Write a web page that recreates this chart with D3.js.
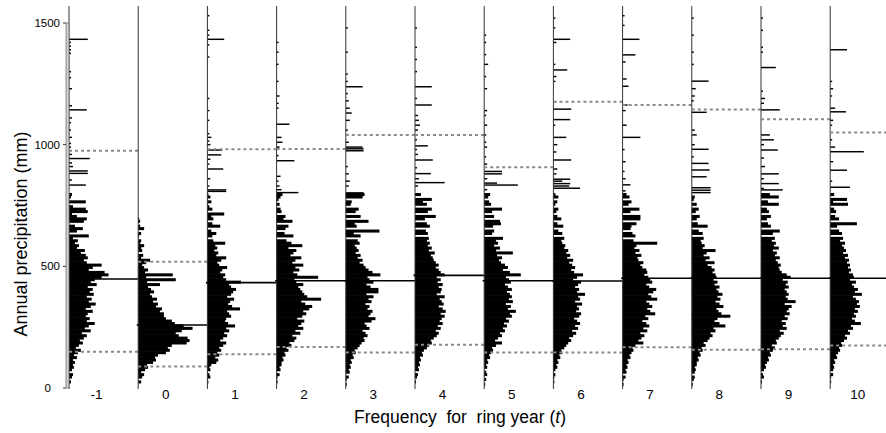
<!DOCTYPE html>
<html>
<head>
<meta charset="utf-8">
<script src="https://cdn.jsdelivr.net/npm/d3@7"></script>
<style>
  body { margin: 0; background: #fff; }
  text { font-family: "Liberation Sans", Arial, sans-serif; fill: #000; }
</style>
</head>
<body>
<div id="chart"></div>
<script>
// ring years (one panel each)
const years = [-1, 0, 1, 2, 3, 4, 5, 6, 7, 8, 9, 10];
const yTicks = [0, 500, 1000, 1500];
const binSize = 10; // mm per bin in the dense part (0-800 mm)

// frequencies per 10 mm bin, 0-800 mm
const freq_m1 = [0,0,2,0,3,4,0,3,5,4, 6,4,8,5,9,12,7,10,14,11, 15,18,13,22,16,20,26,18,21,17, 19,24,17,22,27,20,23,18,25,21,
  24,19,28,22,26,33,40,36,20,24, 33,18,15,19,17,12,16,8,10,6, 9,4,20,0,8,14,6,0,15,18, 8,3,19,17,4,0,17,0,2,3];
const freq_0 = [0,0,3,0,4,6,3,7,10,9, 15,18,17,20,28,32,30,34,49,52, 50,41,38,44,55,46,37,34,28,26, 26,22,24,18,20,15,19,14,12,16,
  13,10,22,9,38,8,35,7,10,6, 4,8,12,3,5,0,4,3,6,2, 3,0,1,3,0,6,2,0,2,1, 0,0,0,0,0,0,0,0,0,0];
const freq_1 = [0,0,1,0,3,2,0,3,2,4, 9,11,8,12,10,14,12,16,19,13, 16,20,17,22,19,28,21,18,19,24, 22,20,33,25,21,23,27,20,24,26,
  29,24,22,34,19,16,18,13,15,20, 12,10,14,19,9,11,7,10,8,18, 6,0,5,9,4,0,13,5,0,6, 4,17,0,5,2,0,4,0,3,1];
const freq_2 = [0,0,1,0,1,3,0,4,3,5, 5,7,6,9,8,12,10,15,13,18, 20,16,24,19,27,22,25,28,21,26, 30,27,33,36,29,25,45,31,28,26,
  24,22,27,20,18,42,21,17,23,19, 27,16,19,25,14,17,20,12,26,15, 10,0,17,8,0,9,12,0,16,7, 9,0,5,4,0,3,0,2,4,6];
const freq_3 = [0,1,0,1,3,0,4,3,5,4, 6,5,8,7,10,9,12,14,16,19, 18,22,20,17,24,21,19,26,30,23, 25,27,22,24,20,26,23,28,21,33,
  33,25,21,28,24,22,35,27,23,20, 18,14,17,12,15,10,13,11,9,14, 12,0,15,8,34,0,11,9,23,0, 15,0,10,13,0,5,6,0,17,19];
const freq_4 = [0,0,1,0,2,3,0,4,3,5, 4,6,5,8,7,9,12,14,17,16, 19,22,24,21,26,23,28,25,27,30, 26,31,28,24,29,27,25,30,22,26,
  27,24,28,23,26,22,30,26,24,21, 24,21,19,18,16,20,14,17,13,15, 12,14,0,13,11,0,15,12,0,10, 21,0,13,17,0,12,8,17,0,6];
const freq_5 = [0,1,0,2,0,3,2,0,3,2, 4,3,6,5,7,9,8,12,18,11, 14,18,16,21,19,23,20,25,22,28, 26,32,24,27,22,29,25,28,26,23,
  28,24,21,27,25,22,37,26,19,24, 21,17,15,18,13,29,12,16,10,14, 12,19,0,8,10,0,9,17,16,0, 10,0,8,18,0,7,5,0,4,6];
const freq_6 = [0,0,1,0,1,2,0,2,4,3, 5,4,7,6,9,8,11,13,15,18, 16,20,23,19,25,22,27,24,21,26, 28,23,26,24,29,22,27,25,32,24,
  26,22,25,28,20,24,30,21,18,22, 19,16,20,14,17,13,15,11,12,9, 8,11,0,9,5,0,10,4,0,8, 4,0,3,5,0,2,4,0,5,2];
const freq_7 = [0,1,0,1,3,0,4,3,5,4, 6,5,8,7,9,11,10,13,21,16, 19,22,18,25,21,27,24,20,26,23, 33,28,25,30,27,24,35,29,26,31,
  34,27,24,30,28,26,22,25,24,20, 18,21,16,15,19,13,17,12,14,35, 11,0,13,10,0,8,9,14,0,18, 18,0,8,17,0,6,9,0,7,4];
const freq_8 = [0,1,0,2,3,0,3,4,3,5, 5,7,6,9,8,11,10,14,12,16, 18,21,19,24,22,34,28,23,26,39, 30,27,25,32,28,24,29,26,31,27,
  25,28,23,26,22,25,24,21,23,20, 16,23,14,18,12,15,24,11,13,10, 9,12,0,11,7,0,16,6,0,5, 8,0,4,7,0,5,0,2,3,0];
const freq_9 = [0,0,1,0,3,2,0,3,5,4, 6,8,7,10,9,12,14,11,16,15, 18,20,23,19,26,22,25,21,27,24, 29,26,28,31,24,35,27,25,28,26,
  24,28,25,27,22,30,26,21,19,18, 20,17,15,19,14,16,12,18,13,15, 11,14,0,12,19,0,10,7,0,6, 10,0,8,6,0,18,7,0,18,9];
const freq_10 = [0,0,1,0,1,3,0,3,4,3, 5,4,7,6,8,10,9,12,11,14, 17,15,20,18,23,21,31,25,22,26, 24,28,25,30,27,29,26,23,32,25,
  28,24,22,26,20,24,23,19,21,18, 20,17,19,15,18,13,16,14,12,15, 10,13,0,12,9,0,7,27,0,9, 5,0,6,4,0,18,3,17,0,4];

// single wet years above 800 mm: [precipitation mm, frequency]
const wet_m1 = [[834,17],[855,3],[882,19],[892,19],[910,4],[925,3],[943,21],[960,3],[990,2],[1005,2],[1030,3],[1060,2],[1090,2],[1110,3],[1143,18],[1160,3],[1230,3],[1275,2],[1300,2],[1375,2],[1390,2],[1405,2],[1420,2],[1433,19]];
const wet_0 = [];
const wet_1 = [[808,19],[814,19],[830,2],[860,3],[900,16],[920,2],[940,3],[958,14],[978,15],[1000,3],[1015,2],[1030,4],[1045,2],[1100,2],[1140,2],[1190,2],[1360,2],[1410,2],[1433,17],[1450,2],[1470,2],[1530,2]];
const wet_2 = [[803,22],[815,5],[830,3],[850,2],[870,4],[934,18],[955,2],[990,3],[1010,6],[1030,5],[1084,13],[1150,2],[1170,2],[1200,3],[1260,2],[1330,2],[1380,2],[1420,2]];
const wet_3 = [[802,18],[830,3],[850,4],[880,3],[910,2],[975,18],[983,18],[990,17],[1010,3],[1060,2],[1100,4],[1130,6],[1150,4],[1180,3],[1210,2],[1238,17],[1260,2],[1290,2],[1380,2],[1480,2]];
const wet_4 = [[830,3],[844,30],[860,4],[881,16],[905,2],[937,18],[960,3],[980,2],[995,13],[1020,2],[1060,3],[1080,5],[1100,4],[1120,3],[1163,17],[1190,2],[1238,17],[1300,2],[1350,2],[1400,2],[1480,2]];
const wet_5 = [[815,3],[834,34],[842,13],[860,3],[880,18],[890,18],[920,3],[950,2],[990,3],[1010,2],[1040,2],[1080,3],[1120,2],[1140,3],[1230,3],[1280,2],[1330,4],[1370,2],[1420,2],[1450,2]];
const wet_6 = [[821,27],[830,16],[840,17],[850,9],[858,17],[880,3],[900,4],[937,18],[970,3],[1000,4],[1030,13],[1080,2],[1103,17],[1146,18],[1176,3],[1260,2],[1280,3],[1307,14],[1330,2],[1420,3],[1433,17],[1480,2],[1520,2]];
const wet_7 = [[810,3],[835,8],[860,3],[890,2],[930,3],[980,2],[1030,18],[1080,4],[1140,3],[1163,5],[1240,6],[1270,4],[1340,3],[1369,13],[1433,17],[1490,2],[1530,2]];
const wet_8 = [[803,19],[813,19],[823,19],[868,15],[896,18],[923,17],[950,2],[981,17],[1000,3],[1040,5],[1060,3],[1133,15],[1180,2],[1200,3],[1230,4],[1261,17],[1330,2],[1380,2],[1450,2],[1520,2]];
const wet_9 = [[814,22],[820,3],[840,18],[860,3],[880,18],[910,4],[945,3],[978,17],[1000,3],[1020,13],[1040,9],[1143,19],[1170,3],[1190,4],[1220,2],[1317,15],[1380,2],[1400,2],[1470,2],[1520,2]];
const wet_10 = [[825,20],[850,2],[895,17],[930,3],[971,34],[990,5],[1020,2],[1080,2],[1100,3],[1135,16],[1150,5],[1200,2],[1230,3],[1260,2],[1390,17]];

// median and percentile lines (mm)
const medians = [448, 259, 433, 441, 441, 463, 441, 440, 451, 451, 451, 451];
const lowerPct = [149, 88, 139, 168, 146, 178, 146, 146, 167, 157, 159, 175];
const upperPct = [975, 519, 981, 982, 1040, 1040, 907, 1176, 1163, 1145, 1104, 1050];

const denseList = [freq_m1, freq_0, freq_1, freq_2, freq_3, freq_4, freq_5, freq_6, freq_7, freq_8, freq_9, freq_10];
const wetList = [wet_m1, wet_0, wet_1, wet_2, wet_3, wet_4, wet_5, wet_6, wet_7, wet_8, wet_9, wet_10];

const panels = years.map((yr, i) => ({
  year: yr, dense: denseList[i], wet: wetList[i],
  median: medians[i], lo: lowerPct[i], hi: upperPct[i]
}));

const width = 886, height = 433;

const svg = d3.select("#chart")
  .append("svg")
  .attr("width", width)
  .attr("height", height);

// scales
const y = d3.scaleLinear().domain([0, 1500]).range([388, 23]);
const px = d3.scaleLinear().domain([-1, 11]).range([68.5, 898.9]);
const fx = d3.scaleLinear().domain([0, 70]).range([0, 69.2]);

const g = svg.append("g");

// one group per ring year
const panel = g.selectAll(".panel")
  .data(panels)
  .join("g")
  .attr("class", "panel")
  .attr("transform", d => `translate(${px(d.year)},0)`);

// dense histogram bars (slight overlap so neighbouring bins merge)
panel.selectAll(".bin")
  .data(d => d.dense.map((v, i) => ({ lo: i * binSize, v: v })).filter(b => b.v > 0))
  .join("rect")
  .attr("class", "bin")
  .attr("x", 0.5)
  .attr("y", b => y(b.lo + binSize) - 0.3)
  .attr("height", b => y(b.lo) - y(b.lo + binSize) + 0.6)
  .attr("width", b => fx(b.v))
  .attr("fill", "#000");

// single wet years
panel.selectAll(".wet")
  .data(d => d.wet)
  .join("rect")
  .attr("class", "wet")
  .attr("x", 0.5)
  .attr("y", w => y(w[0] + 3))
  .attr("height", w => y(w[0] - 3) - y(w[0] + 3))
  .attr("width", w => fx(w[1]))
  .attr("fill", "#000");

// panel base lines
panel.append("line")
  .attr("x1", 0.5).attr("x2", 0.5)
  .attr("y1", 6).attr("y2", 389)
  .attr("stroke", "#333")
  .attr("stroke-width", 1);

// percentile lines (dashed)
["lo", "hi"].forEach(k => {
  panel.append("line")
    .attr("x1", 0.5)
    .attr("x2", d => px(d.year + 1) - px(d.year) + 0.5)
    .attr("y1", d => y(d[k])).attr("y2", d => y(d[k]))
    .attr("stroke", "#8a8a8a")
    .attr("stroke-width", 2)
    .attr("stroke-dasharray", "3,3");
});

// median lines
panel.append("line")
  .attr("x1", -1)
  .attr("x2", d => px(d.year + 1) - px(d.year) + 0.5)
  .attr("y1", d => y(d.median)).attr("y2", d => y(d.median))
  .attr("stroke", "#000")
  .attr("stroke-width", 1.6);

// y axis: grey bar with ticks
g.append("rect")
  .attr("x", 66).attr("y", y(1500))
  .attr("width", 3).attr("height", y(0) - y(1500))
  .attr("fill", "#d0d0d0")
  .attr("stroke", "#666")
  .attr("stroke-width", 0.7);

g.selectAll(".ytick")
  .data(yTicks)
  .join("line")
  .attr("class", "ytick")
  .attr("x1", 63).attr("x2", 66)
  .attr("y1", d => y(d)).attr("y2", d => y(d))
  .attr("stroke", "#333");

g.selectAll(".ylab")
  .data(yTicks)
  .join("text")
  .attr("class", "ylab")
  .attr("x", d => d === 0 ? 51 : 60)
  .attr("y", d => y(d))
  .attr("dy", "0.35em")
  .attr("text-anchor", "end")
  .attr("font-size", "11.5px")
  .text(d => d);

// x labels (ring year)
g.selectAll(".xlab")
  .data(years)
  .join("text")
  .attr("class", "xlab")
  .attr("x", d => px(d) + 28)
  .attr("y", 399)
  .attr("text-anchor", "middle")
  .attr("font-size", "13.5px")
  .text(d => d);

// axis titles
svg.append("text")
  .attr("transform", "translate(27,234) rotate(-90)")
  .attr("text-anchor", "middle")
  .attr("font-size", "18px")
  .text("Annual precipitation (mm)");

const xt = svg.append("text")
  .attr("x", 354)
  .attr("y", 423)
  .attr("font-size", "17.5px")
  .style("white-space", "pre");
xt.append("tspan").text("Frequency  for  ring year (");
xt.append("tspan").attr("font-style", "italic").text("t");
xt.append("tspan").text(")");
</script>
</body>
</html>
